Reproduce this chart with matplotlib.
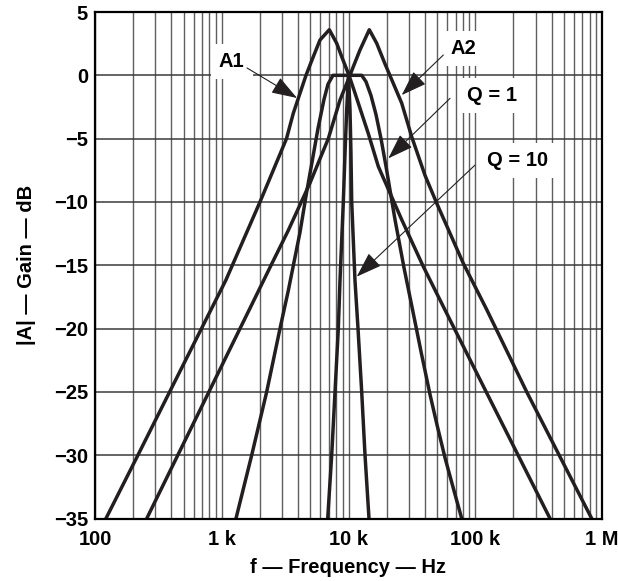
import numpy as np
import matplotlib.pyplot as plt

plt.rcParams['font.family'] = ['Liberation Sans', 'DejaVu Sans']
plt.rcParams['font.weight'] = 'bold'

# curves: frequency (Hz) and gain (dB)
a1_freq = [122, 218, 388, 692, 1075, 2003, 3242, 3668, 4620, 5276, 5959, 7056,
           8070, 8840, 10090, 11250, 14330, 17190, 26290, 38910, 59540,
           122000, 217800, 388800]
a1_gain = [-35, -30, -25, -20, -16.2, -10, -5, -3, 0, 1.47, 2.79, 3.6,
           2.53, 1.47, 0, -1.4, -4.6, -7.2, -11.4, -15.1, -18.8,
           -25, -30, -35]

a2_freq = [256, 450, 792, 1393, 1727, 2449, 3330, 4970, 6928, 8570,
           10275, 10910, 12320, 14590, 16690, 19410, 26290, 31520, 40140, 49650,
           80480, 123100, 254600, 829200]
a2_gain = [-35, -30, -25, -20, -18.1, -15.0, -12.3, -8.5, -5, -1.95,
           0, 0.68, 2.0, 3.6, 2.53, 0.9, -2.2, -4.85, -7.9, -10.1,
           -14.85, -18.5, -25, -35]

q1_freq = [1295, 1723, 2262, 2881, 3350, 4143, 4679, 5125, 5746, 6409,
           6892, 7545, 12710, 13740, 15050, 16480, 18050, 19770, 23280, 27410,
           32450, 37660, 43950, 49910, 57710, 67100, 78180]
q1_gain = [-35, -30, -25, -20, -17, -12.4, -9.2, -7.0, -4.2, -1.9,
           -0.7, 0, 0, -0.5, -1.6, -3.1, -5, -7.2, -11.4, -15.2,
           -18.8, -22, -25.2, -27.6, -30.2, -32.6, -35]

q10_freq = [6853, 7370, 7827, 8310, 8570, 9100, 9400, 9680, 10000,
            10275, 10450, 10600, 11250, 11885, 12710, 13500, 14510]
q10_gain = [-35, -30, -25, -20, -16.2, -10, -6, -2.7, 0,
            -2.7, -6, -10, -16.2, -20, -25, -30, -35]

xticks = [100, 1e3, 1e4, 1e5, 1e6]
xtick_labels = ['100', '1 k', '10 k', '100 k', '1 M']
yticks = list(range(-35, 6, 5))

fig = plt.figure(figsize=(6.18, 5.81), dpi=100)
ax = fig.add_axes([95/618, 1 - 518.5/581, (602 - 95)/618, (518.5 - 12)/581])

line_kw = dict(color='#231f20', lw=2.5, solid_joinstyle='round', zorder=3)
for f, g in [(a1_freq, a1_gain), (a2_freq, a2_gain), (q1_freq, q1_gain), (q10_freq, q10_gain)]:
    ax.plot(f, g, **line_kw)

ax.set_xscale('log')
ax.set_xlim(100, 1e6)
ax.set_ylim(-35, 5)
ax.set_xticks(xticks)
ax.set_xticklabels(xtick_labels)
ax.set_yticks(yticks)
ax.tick_params(axis='both', which='both', length=0, labelsize=14.5)
ax.tick_params(axis='x', pad=8.5)
ax.tick_params(axis='y', pad=5)

ax.grid(True, axis='x', which='both', color='#5e5e5e', lw=1.0, zorder=1)
ax.grid(True, axis='y', which='major', color='#3a3a3a', lw=1.1, zorder=1)
for s in ax.spines.values():
    s.set_linewidth(1.6)
    s.set_zorder(5)

ax.set_xlabel('f — Frequency — Hz', fontsize=14.5, fontweight='bold', labelpad=6)
ax.set_ylabel('|A| — Gain — dB', fontsize=14.5, fontweight='bold', labelpad=13)

# callouts
arrow_kw = dict(arrowstyle='-|>,head_length=1.6,head_width=0.55', lw=0.8,
                color='#231f20', mutation_scale=10, shrinkA=0, shrinkB=0)
box_kw = dict(boxstyle='square,pad=0.4', fc='white', ec='none')
labels = [
    ('A1', (1198, 1.07), (1582, 0.58), (3925, -1.79)),
    ('A2', (80500, 2.13), (55970, 1.60), (26290, -1.56)),
    ('Q = 1', (134900, -1.62), (63220, -1.82), (20610, -6.56)),
    ('Q = 10', (215400, -6.76), (99600, -7.09), (11610, -15.9)),
]
for txt, pos, start, tip in labels:
    ax.text(pos[0], pos[1], txt, ha='center', va='center', fontsize=14.5,
            fontweight='bold', bbox=box_kw, zorder=4)
    ax.annotate('', xy=tip, xytext=start, arrowprops=arrow_kw, zorder=4)

fig.savefig('out.png', dpi=100)
